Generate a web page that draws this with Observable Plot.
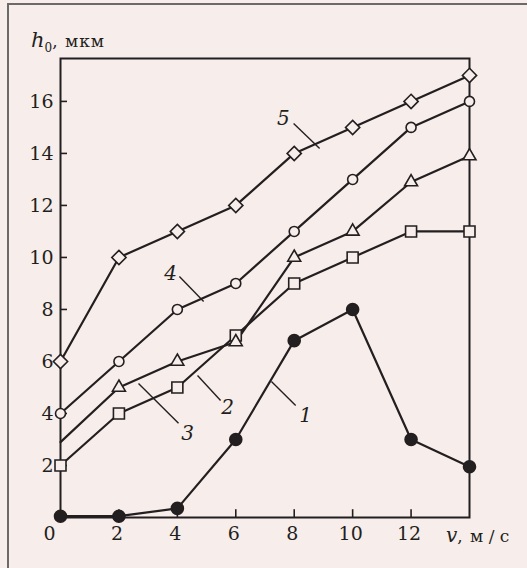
<!DOCTYPE html>
<html><head><meta charset="utf-8">
<script src="https://cdn.jsdelivr.net/npm/d3@7"></script>
<script src="https://cdn.jsdelivr.net/npm/@observablehq/plot@0.6"></script>
<style>
html,body{margin:0;padding:0;background:#f7edeb;}
#wrap{position:relative;width:527px;height:568px;overflow:hidden;}
#border{position:absolute;left:7px;top:3px;width:700px;height:700px;border-top:2px solid #6a6a6a;border-left:2px solid #6a6a6a;pointer-events:none;}
svg{position:absolute;left:0;top:0;}
</style></head><body><div id="wrap"><div id="border"></div></div>
<script>
// ---- data ----
const speeds = [0, 2, 4, 6, 8, 10, 12, 14];
const curve1 = [0.05, 0.05, 0.35, 3.0, 6.8, 8.0, 3.0, 1.95];
const curve2 = [2, 4, 5, 7, 9, 10, 11, 11];
const curve3 = [2.9, 5, 6, 6.75, 10, 11, 12.9, 13.9];
const curve4 = [4, 6, 8, 9, 11, 13, 15, 16];
const curve5 = [6, 10, 11, 12, 14, 15, 16, 17];
const seriesNames = ["1", "2", "3", "4", "5"];
const xTickValues = [2, 4, 6, 8, 10, 12];
const yTickValues = [2, 4, 6, 8, 10, 12, 14, 16];
// curve-number labels (data coordinates) and their leader lines
const labelText = ["1", "2", "3", "4", "5"];
const labelX = [8.39, 5.72, 4.35, 3.77, 7.63];
const labelY = [3.92, 4.23, 3.23, 9.38, 15.35];
const leaderX1 = [7.22, 4.69, 2.67, 4.07, 7.98];
const leaderY1 = [5.23, 5.46, 5.15, 9.27, 15.15];
const leaderX2 = [8.05, 5.48, 4.04, 4.90, 8.87];
const leaderY2 = [4.31, 4.50, 3.62, 8.31, 14.19];

// ---- styles ----
const ink = "#231f20";
const bg = "#f7edeb";
const seriesStyle = {
  "1": {symbol: "circle", r: 6, fill: ink},
  "2": {symbol: "square", r: 6.2, fill: bg},
  "3": {symbol: "triangle", r: 4.8, fill: bg},
  "4": {symbol: "circle", r: 5, fill: bg},
  "5": {symbol: "diamond2", r: 6.4, fill: bg}
};

const curves = [curve1, curve2, curve3, curve4, curve5];
const rows = [];
curves.forEach((c, i) => c.forEach((v, j) => rows.push({s: seriesNames[i], x: speeds[j], y: v})));
const labels = labelText.map((t, i) => ({t, x: labelX[i], y: labelY[i], x1: leaderX1[i], y1: leaderY1[i], x2: leaderX2[i], y2: leaderY2[i]}));

const dotMarks = seriesNames.map(s => Plot.dot(
  rows.filter(d => d.s === s && !(s === "3" && d.x === 0)),
  {x: "x", y: "y", symbol: () => seriesStyle[s].symbol, r: seriesStyle[s].r,
   fill: seriesStyle[s].fill, stroke: ink, strokeWidth: 1.6}
));

const chart = Plot.plot({
  width: 527, height: 568,
  marginLeft: 60, marginRight: 58, marginTop: 58, marginBottom: 51,
  style: {background: "transparent", fontFamily: "DejaVu Serif", fontSize: "18px", color: ink, overflow: "visible"},
  x: {domain: [0, 14]},
  y: {domain: [0, 17.65]},
  symbol: {type: "identity"},
  marks: [
    Plot.ruleX(xTickValues, {y1: 0, y2: 0.3, stroke: ink, strokeWidth: 1.6}),
    Plot.ruleY(yTickValues, {x1: 0, x2: 0.24, stroke: ink, strokeWidth: 1.6}),
    Plot.axisY(yTickValues, {tickSize: 0, tickPadding: 7, label: null, fontSize: 19}),
    Plot.axisX([0], {tickSize: 0, tickPadding: 9, dx: -11, label: null, fontSize: 19}),
    Plot.axisX(xTickValues, {tickSize: 0, tickPadding: 9, dx: -2, label: null, fontSize: 19}),
    Plot.line(rows, {x: "x", y: "y", z: "s", stroke: ink, strokeWidth: 2.2}),
    Plot.link(labels, {x1: "x1", y1: "y1", x2: "x2", y2: "y2", stroke: ink, strokeWidth: 1.4}),
    Plot.text(labels, {x: "x", y: "y", text: "t", fontStyle: "italic", fontSize: 20, fill: ink}),
    Plot.frame({stroke: ink, strokeWidth: 2}),
    ...dotMarks
  ]
});
document.getElementById("wrap").appendChild(chart);

const svg = d3.select(chart);
const yl = svg.append("text").attr("x", 31).attr("y", 47).attr("text-anchor", "start").attr("fill", ink).attr("font-family", "DejaVu Serif");
yl.append("tspan").attr("font-style", "italic").attr("font-size", 21).text("h");
yl.append("tspan").attr("font-size", 12).attr("dy", 5).text("0");
yl.append("tspan").attr("font-size", 17).attr("dy", -5).attr("letter-spacing", 1).text(", мкм");

const xl = svg.append("text").attr("x", 446).attr("y", 542).attr("text-anchor", "start").attr("fill", ink).attr("font-family", "DejaVu Serif");
xl.append("tspan").attr("font-style", "italic").attr("font-size", 20).text("v");
xl.append("tspan").attr("font-size", 17).attr("letter-spacing", 1).text(", м\u2009/\u2009с");
</script></body></html>
